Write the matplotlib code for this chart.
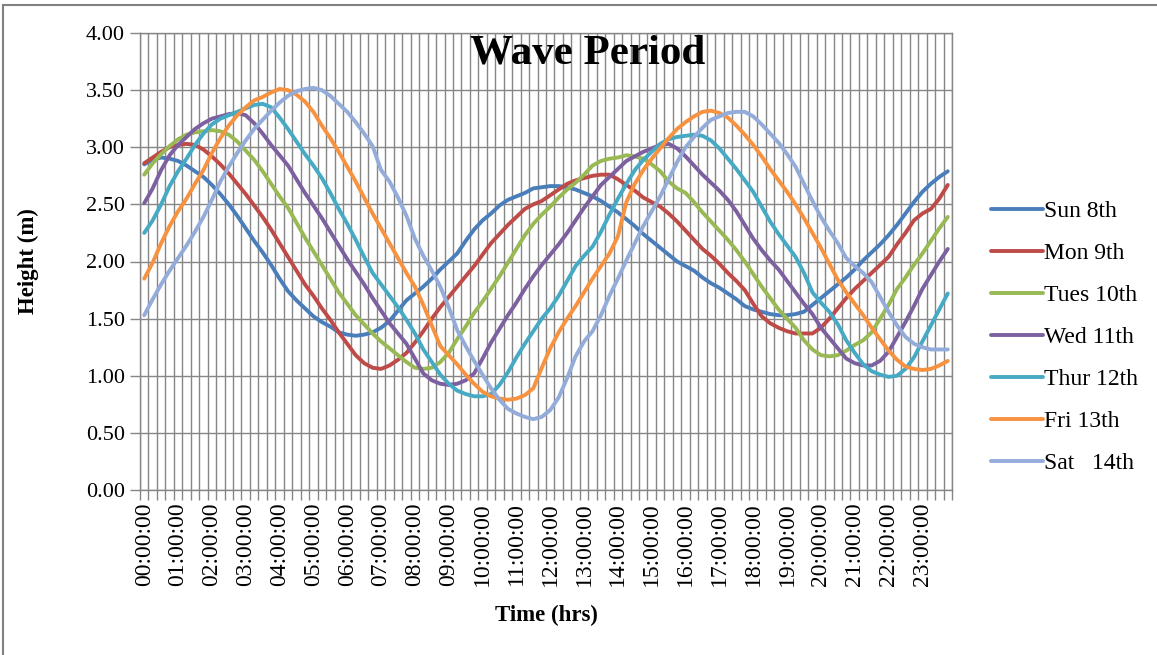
import numpy as np
import matplotlib
matplotlib.use("Agg")
from matplotlib import pyplot as plt
from matplotlib.patches import Rectangle

# 15-minute readings, 00:00 .. 23:45
times = ["%02d:%02d:00" % (h, m) for h in range(24) for m in (0, 15, 30, 45)]

sun_8 = [2.85, 2.89, 2.91, 2.90, 2.88, 2.84, 2.79, 2.74, 2.67, 2.59, 2.50, 2.40,
         2.29, 2.18, 2.08, 1.97, 1.85, 1.74, 1.66, 1.59, 1.52, 1.47, 1.43, 1.38,
         1.36, 1.35, 1.36, 1.38, 1.42, 1.48, 1.57, 1.66, 1.72, 1.78, 1.85, 1.93,
         2.00, 2.07, 2.18, 2.28, 2.36, 2.42, 2.49, 2.54, 2.57, 2.60, 2.64, 2.65,
         2.66, 2.66, 2.65, 2.63, 2.60, 2.57, 2.53, 2.48, 2.43, 2.37, 2.31, 2.24,
         2.18, 2.12, 2.06, 2.00, 1.96, 1.92, 1.86, 1.81, 1.77, 1.72, 1.67, 1.61,
         1.58, 1.56, 1.54, 1.53, 1.53, 1.54, 1.56, 1.62, 1.68, 1.74, 1.80, 1.86,
         1.93, 2.01, 2.08, 2.15, 2.23, 2.32, 2.42, 2.52, 2.61, 2.68, 2.74, 2.79]

mon_9 = [2.86, 2.91, 2.96, 3.00, 3.02, 3.03, 3.02, 2.98, 2.92, 2.85, 2.77, 2.68,
         2.59, 2.49, 2.39, 2.28, 2.16, 2.04, 1.92, 1.80, 1.70, 1.59, 1.49, 1.38,
         1.28, 1.18, 1.11, 1.07, 1.06, 1.09, 1.14, 1.20, 1.29, 1.39, 1.50, 1.60,
         1.69, 1.78, 1.87, 1.96, 2.06, 2.16, 2.24, 2.32, 2.39, 2.46, 2.50, 2.53,
         2.58, 2.63, 2.68, 2.71, 2.73, 2.75, 2.76, 2.76, 2.72, 2.67, 2.62, 2.56,
         2.52, 2.48, 2.42, 2.35, 2.27, 2.19, 2.11, 2.05, 1.98, 1.90, 1.83, 1.75,
         1.63, 1.52, 1.46, 1.42, 1.39, 1.37, 1.37, 1.37, 1.42, 1.50, 1.59, 1.68,
         1.76, 1.83, 1.90, 1.97, 2.04, 2.15, 2.25, 2.36, 2.42, 2.46, 2.55, 2.67]

tues_10 = [2.76, 2.86, 2.94, 3.01, 3.07, 3.11, 3.13, 3.14, 3.15, 3.14, 3.11, 3.05,
           2.97, 2.89, 2.79, 2.68, 2.57, 2.47, 2.34, 2.21, 2.09, 1.97, 1.85, 1.73,
           1.63, 1.53, 1.45, 1.37, 1.30, 1.24, 1.18, 1.12, 1.07, 1.06, 1.07, 1.12,
           1.20, 1.32, 1.43, 1.55, 1.65, 1.76, 1.87, 1.99, 2.11, 2.23, 2.33, 2.41,
           2.48, 2.56, 2.63, 2.69, 2.76, 2.84, 2.88, 2.90, 2.91, 2.93, 2.92, 2.90,
           2.85, 2.79, 2.70, 2.64, 2.60, 2.52, 2.43, 2.35, 2.27, 2.19, 2.10, 2.00,
           1.89, 1.78, 1.68, 1.58, 1.50, 1.42, 1.31, 1.23, 1.18, 1.17, 1.18, 1.22,
           1.27, 1.31, 1.38, 1.50, 1.62, 1.76, 1.86, 1.97, 2.07, 2.18, 2.29, 2.39]

wed_11 = [2.51, 2.64, 2.80, 2.93, 3.02, 3.09, 3.16, 3.21, 3.25, 3.27, 3.29, 3.30,
          3.28, 3.21, 3.12, 3.02, 2.93, 2.84, 2.72, 2.60, 2.49, 2.38, 2.26, 2.14,
          2.02, 1.91, 1.80, 1.68, 1.57, 1.46, 1.37, 1.28, 1.15, 1.02, 0.96, 0.93,
          0.92, 0.93, 0.96, 1.02, 1.15, 1.29, 1.41, 1.53, 1.64, 1.76, 1.87, 1.97,
          2.06, 2.15, 2.25, 2.36, 2.47, 2.57, 2.67, 2.74, 2.81, 2.88, 2.92, 2.96,
          2.99, 3.02, 3.03, 2.99, 2.92, 2.84, 2.76, 2.69, 2.62, 2.54, 2.44, 2.32,
          2.20, 2.10, 2.01, 1.93, 1.83, 1.73, 1.63, 1.54, 1.42, 1.33, 1.24, 1.15,
          1.11, 1.09, 1.09, 1.13, 1.21, 1.34, 1.47, 1.61, 1.76, 1.88, 2.00, 2.11]

thur_12 = [2.25, 2.36, 2.50, 2.66, 2.79, 2.90, 3.02, 3.12, 3.20, 3.25, 3.28, 3.31,
           3.34, 3.37, 3.38, 3.35, 3.26, 3.16, 3.05, 2.94, 2.84, 2.73, 2.60, 2.46,
           2.33, 2.19, 2.04, 1.90, 1.80, 1.70, 1.60, 1.49, 1.37, 1.23, 1.12, 1.01,
           0.93, 0.87, 0.84, 0.82, 0.82, 0.84, 0.92, 1.03, 1.16, 1.28, 1.39, 1.50,
           1.59, 1.70, 1.83, 1.96, 2.05, 2.13, 2.26, 2.41, 2.55, 2.68, 2.80, 2.89,
           2.96, 3.03, 3.07, 3.09, 3.10, 3.11, 3.10, 3.06, 2.99, 2.90, 2.81, 2.71,
           2.61, 2.48, 2.35, 2.24, 2.14, 2.04, 1.90, 1.73, 1.64, 1.56, 1.45, 1.31,
           1.20, 1.10, 1.04, 1.01, 0.99, 1.00, 1.06, 1.16, 1.30, 1.44, 1.58, 1.72]

fri_13 = [1.85, 1.99, 2.16, 2.31, 2.44, 2.55, 2.68, 2.80, 2.95, 3.08, 3.19, 3.28,
          3.35, 3.41, 3.44, 3.48, 3.51, 3.50, 3.46, 3.40, 3.31, 3.19, 3.08, 2.96,
          2.83, 2.70, 2.56, 2.42, 2.29, 2.16, 2.03, 1.90, 1.78, 1.62, 1.44, 1.26,
          1.18, 1.10, 1.01, 0.93, 0.86, 0.82, 0.80, 0.79, 0.80, 0.83, 0.89, 1.07,
          1.24, 1.38, 1.50, 1.61, 1.73, 1.85, 1.96, 2.07, 2.22, 2.52, 2.68, 2.80,
          2.90, 2.99, 3.08, 3.16, 3.22, 3.27, 3.31, 3.32, 3.30, 3.26, 3.19, 3.11,
          3.02, 2.92, 2.81, 2.71, 2.61, 2.50, 2.38, 2.25, 2.12, 1.98, 1.84, 1.73,
          1.63, 1.53, 1.42, 1.32, 1.22, 1.14, 1.08, 1.06, 1.05, 1.06, 1.09, 1.13]

sat_14 = [1.53, 1.67, 1.80, 1.92, 2.03, 2.14, 2.26, 2.39, 2.54, 2.70, 2.83, 2.95,
          3.06, 3.16, 3.24, 3.32, 3.39, 3.45, 3.49, 3.51, 3.52, 3.50, 3.45, 3.38,
          3.31, 3.22, 3.12, 3.01, 2.80, 2.70, 2.56, 2.40, 2.20, 2.05, 1.92, 1.78,
          1.60, 1.40, 1.26, 1.13, 1.01, 0.89, 0.79, 0.71, 0.67, 0.64, 0.62, 0.64,
          0.70, 0.81, 0.98, 1.17, 1.30, 1.39, 1.53, 1.70, 1.85, 2.01, 2.16, 2.31,
          2.44, 2.57, 2.72, 2.87, 3.00, 3.09, 3.17, 3.24, 3.27, 3.30, 3.31, 3.31,
          3.27, 3.20, 3.12, 3.04, 2.94, 2.83, 2.68, 2.53, 2.39, 2.27, 2.16, 2.03,
          1.96, 1.90, 1.82, 1.69, 1.56, 1.44, 1.34, 1.28, 1.25, 1.23, 1.23, 1.23]

series_names = ["Sun 8th", "Mon 9th", "Tues 10th", "Wed 11th", "Thur 12th",
                "Fri 13th", "Sat   14th"]
series_vals = [sun_8, mon_9, tues_10, wed_11, thur_12, fri_13, sat_14]
colors = ["#4A7EBB", "#BE4B48", "#98B954", "#7D60A0", "#46AAC5", "#F69240", "#93ACD9"]

plt.rcParams['font.family'] = ['Liberation Serif', 'DejaVu Serif']

W, H = 1157, 655
fig = plt.figure(figsize=(W / 100, H / 100), dpi=100)
ax = fig.add_axes([140 / W, 1 - 490 / H, (952 - 140) / W, (490 - 33) / H])

x = np.arange(len(times))
for name, vals, c in zip(series_names, series_vals, colors):
    ax.plot(x, vals, color=c, lw=2.8, label=name, solid_capstyle='round')

ax.set_xlim(-0.5, len(times) - 0.5)
ax.set_ylim(0, 4)
ax.set_yticks(np.arange(0, 4.01, 0.5))
ax.set_yticklabels(["%.2f" % v for v in np.arange(0, 4.01, 0.5)], fontsize=16)

# labels every hour, grid lines on category boundaries
ax.set_xticks(x[::4])
ax.set_xticklabels(times[::4], rotation=90, fontsize=17)
ax.set_xticks(np.arange(-0.5, len(times), 1.0), minor=True)
ax.tick_params(axis='x', which='major', length=0, pad=9)
ax.tick_params(axis='x', which='minor', length=7, color='#868686', width=1)
ax.tick_params(axis='y', length=7, color='#868686', width=1, pad=4)

ax.grid(True, which='minor', axis='x', color='#868686', lw=1)
ax.grid(True, which='major', axis='y', color='#868686', lw=1)
for s in ax.spines.values():
    s.set_color('#868686')
    s.set_linewidth(1)

ax.set_ylabel("Height (m)", fontsize=16.5, fontweight='bold')
ax.yaxis.set_label_coords((28 - 140) / 812, 0.5)
ax.set_xlabel("Time (hrs)", fontsize=16.5, fontweight='bold')
ax.xaxis.set_label_coords(0.5, -(615 - 490) / 457)
ax.xaxis.label.set_va('center')
ax.yaxis.label.set_va('center')

fig.text(588 / W, 1 - 53 / H, "Wave Period", fontsize=31, fontweight='bold',
         ha='center', va='center')

fig.legend(loc='upper left', bbox_to_anchor=(970 / W, 1 - 179 / H), frameon=False,
           fontsize=17, handlelength=2.2, handletextpad=0.05, labelspacing=0.87)

# outer chart border
fig.patches.append(Rectangle((3 / W, -0.05), 1.2, 1.05 - 5 / H, transform=fig.transFigure,
                             fill=False, edgecolor='#808080', lw=1.5))

fig.savefig("out.png", dpi=100)
